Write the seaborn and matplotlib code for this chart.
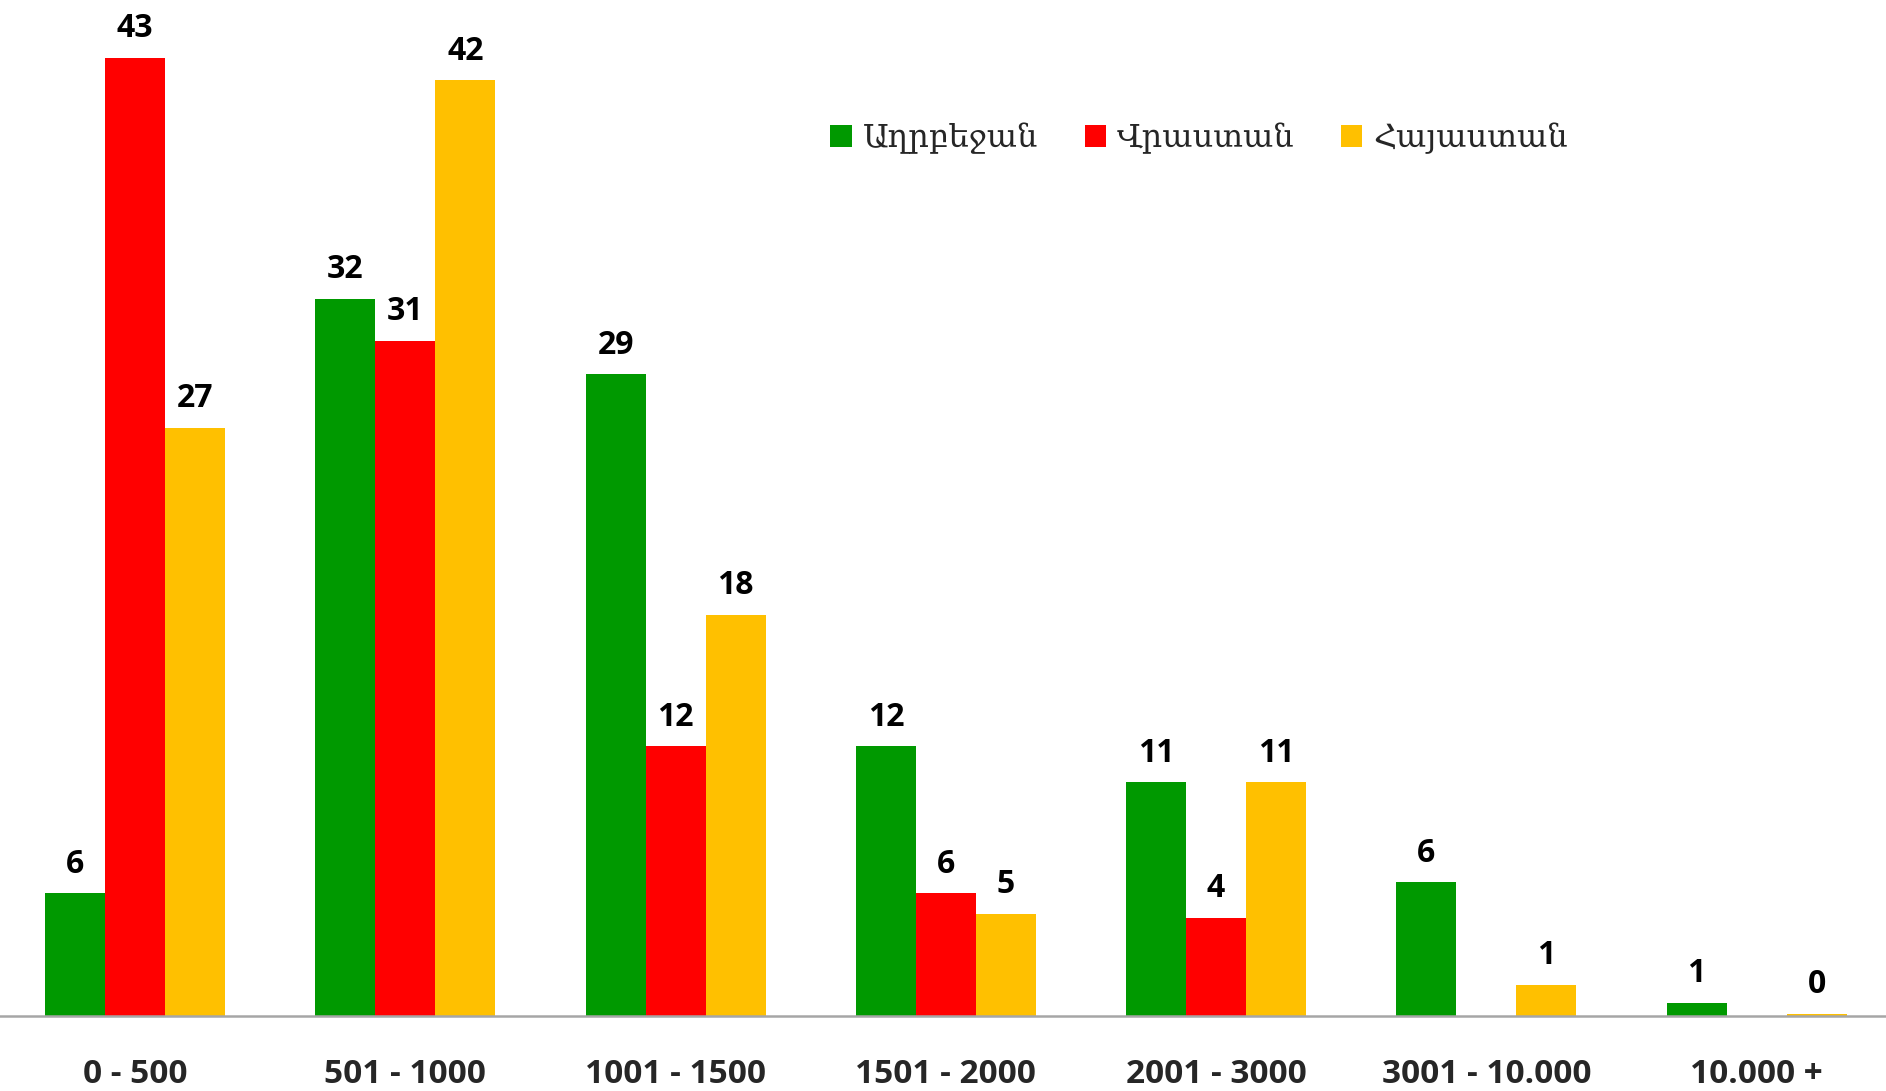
import pandas as pd
import matplotlib
matplotlib.use("Agg")
import matplotlib.pyplot as plt
import seaborn as sns

# ---------- Data ----------
categories = ["0 - 500", "501 - 1000", "1001 - 1500", "1501 - 2000",
              "2001 - 3000", "3001 - 10.000", "10.000 +"]
countries = ["Աղրբեջան", "Վրաստան", "Հայաստան"]

# bar heights (None = no bar)
azerbaijan = [5.5, 32.2, 28.8, 12.1, 10.5, 6.0, 0.6]
georgia = [43.0, 30.3, 12.1, 5.5, 4.4, None, None]
armenia = [26.4, 42.0, 18.0, 4.6, 10.5, 1.4, 0.1]

# printed labels
azerbaijan_lbl = ["6", "32", "29", "12", "11", "6", "1"]
georgia_lbl = ["43", "31", "12", "6", "4", "", ""]
armenia_lbl = ["27", "42", "18", "5", "11", "1", "0"]

colors = ["#009900", "#FF0000", "#FFC000"]

# ---------- Build long table ----------
rows = []
for country, vals, lbls in zip(countries,
                               [azerbaijan, georgia, armenia],
                               [azerbaijan_lbl, georgia_lbl, armenia_lbl]):
    for cat, v, l in zip(categories, vals, lbls):
        if v is not None:
            rows.append({"range": cat, "country": country, "value": v, "label": l})
df = pd.DataFrame(rows)

# ---------- Plot ----------
sns.set_style("white")
plt.rcParams["font.family"] = ["Open Sans", "DejaVu Sans"]

fig = plt.figure(figsize=(18.86, 10.91), dpi=100)
ax = fig.add_axes([0, 75 / 1091, 1.003, 1016 / 1091])

sns.barplot(data=df, x="range", y="value", hue="country",
            order=categories, hue_order=countries, palette=colors,
            width=0.666, errorbar=None, saturation=1,
            edgecolor="none", linewidth=0, ax=ax)

for container, country in zip(ax.containers, countries):
    sub = df[df["country"] == country]
    ax.bar_label(container, labels=list(sub["label"]), padding=9,
                 fontsize=23, fontweight="bold", color="black")

ax.set_xlim(-0.5, len(categories) - 0.5)
ax.set_ylim(0, 45.6)
ax.set_xlabel("")
ax.set_ylabel("")
ax.set_yticks([])
ax.tick_params(axis="x", length=0, pad=30, labelsize=24)
for t in ax.get_xticklabels():
    t.set_fontweight("bold")

for s in ["top", "left", "right"]:
    ax.spines[s].set_visible(False)
ax.spines["bottom"].set_color("#A6A6A6")
ax.spines["bottom"].set_linewidth(1.8)

leg = ax.legend(loc="upper left", bbox_to_anchor=(828 / 1886, 1 - 123 / 1016),
                ncol=3, frameon=False, borderpad=0, borderaxespad=0,
                handlelength=0.66, handleheight=0.66, handletextpad=0.35,
                columnspacing=1.45,
                prop={"family": ["DejaVu Serif", "DejaVu Sans"], "size": 23})

fig.savefig("out.png", dpi=100)
plt.close()
